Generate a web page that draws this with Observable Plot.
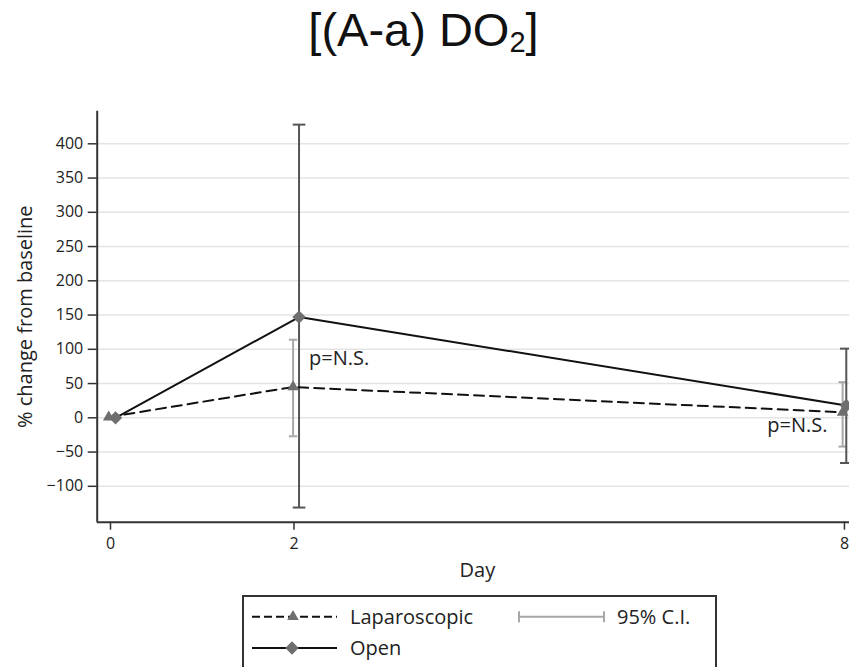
<!DOCTYPE html>
<html>
<head>
<meta charset="utf-8">
<script src="https://cdn.jsdelivr.net/npm/d3@7"></script>
<script src="https://cdn.jsdelivr.net/npm/@observablehq/plot@0.6"></script>
<style>
  html, body { margin: 0; padding: 0; background: #fff; }
  body { width: 849px; height: 667px; overflow: hidden; position: relative; font-family: "Open Sans", sans-serif; color: #222; }
  #title { position: absolute; left: -1px; top: 6px; width: 849px; text-align: center;
           font-family: "Liberation Sans", Arial, sans-serif; font-size: 47px; line-height: 47px; color: #111; }
  #title span.sub { font-size: 29px; vertical-align: -6px; }
  #chart { position: absolute; left: 0; top: 100px; }
  #legend { position: absolute; left: 242px; top: 595px; width: 471px; height: 100px;
            border: 2px solid #333; background: #fff; }
  #legend svg { position: absolute; left: 0; top: 0; }
</style>
</head>
<body>
<div id="title">[(A-a) DO<span class="sub">2</span>]</div>
<div id="chart"></div>
<div id="legend"></div>
<script>
// ---- data ----
const dayTicks = [0, 2, 8];
const yTicks = [-100, -50, 0, 50, 100, 150, 200, 250, 300, 350, 400];

// Laparoscopic (dashed, triangles) — plotted with a small horizontal offset like the original
const lapX    = [-0.02, 1.99, 7.98];
const lapMean = [1, 45, 8];
// Open (solid, diamonds)
const openX    = [0.055, 2.055, 8.02];
const openMean = [0, 147, 18];

// 95% C.I. (days 2 and 8)
const lapCIX  = [1.99, 7.98];
const lapLo   = [-27, -42];
const lapHi   = [114, 52];
const openCIX = [2.055, 8.02];
const openLo  = [-131, -66];
const openHi  = [428, 101];

// annotations
const noteText = "p=N.S.";
const noteDay  = [2, 8];
const noteY    = [86, -11];

const xDomain = [-0.145, 8.055];
const yDomain = [-152.4, 447.6];

// ---- tables ----
const lap  = lapX.map((x, i) => ({x, y: lapMean[i]}));
const open = openX.map((x, i) => ({x, y: openMean[i]}));
const lapCI  = lapCIX.map((x, i) => ({x, lo: lapLo[i], hi: lapHi[i]}));
const openCI = openCIX.map((x, i) => ({x, lo: openLo[i], hi: openHi[i]}));

const hcap = {draw(ctx, size) { const w = Math.sqrt(size / Math.PI); ctx.moveTo(-w, 0); ctx.lineTo(w, 0); }};

const CI_LIGHT = "#a8a8a8", CI_DARK = "#555", MARK = "#6e6e6e", AXIS = "#333";

const plot = Plot.plot({
  width: 849, height: 490,
  marginLeft: 96.7, marginRight: 0, marginTop: 10.7, marginBottom: 68.3,
  style: {fontFamily: "'Open Sans', sans-serif", fontSize: "16px", color: "#222", background: "transparent", overflow: "visible"},
  x: {domain: xDomain},
  y: {domain: yDomain},
  marks: [
    Plot.gridY(yTicks, {stroke: "#e4e4e4", strokeOpacity: 1, strokeWidth: 1.6}),
    Plot.axisY(yTicks, {tickSize: 9, tickPadding: 5, fontSize: 16, stroke: AXIS, strokeWidth: 1.5, label: null}),
    Plot.axisX(dayTicks, {tickSize: 8, tickPadding: 7, fontSize: 16, stroke: AXIS, strokeWidth: 1.5, label: null, tickFormat: d => String(d)}),
    Plot.ruleX([xDomain[0]], {stroke: AXIS, strokeWidth: 2}),
    Plot.ruleY([yDomain[0]], {stroke: AXIS, strokeWidth: 2}),
    Plot.text(["% change from baseline"], {frameAnchor: "left", textAnchor: "middle", lineAnchor: "middle", rotate: -90, dx: -72, fontSize: 20, fill: "#222"}),
    Plot.text(["Day"], {frameAnchor: "bottom", textAnchor: "middle", lineAnchor: "middle", dy: 48.3, dx: 4, fontSize: 20, fill: "#222"}),
    // confidence intervals
    Plot.ruleX(lapCI, {x: "x", y1: "lo", y2: "hi", stroke: CI_LIGHT, strokeWidth: 2}),
    Plot.dot(lapCI, {x: "x", y: "lo", symbol: hcap, r: 4.2, stroke: CI_LIGHT, strokeWidth: 2, fill: "none"}),
    Plot.dot(lapCI, {x: "x", y: "hi", symbol: hcap, r: 4.2, stroke: CI_LIGHT, strokeWidth: 2, fill: "none"}),
    Plot.ruleX(openCI, {x: "x", y1: "lo", y2: "hi", stroke: CI_DARK, strokeWidth: 2}),
    Plot.dot(openCI, {x: "x", y: "lo", symbol: hcap, r: 6.3, stroke: CI_DARK, strokeWidth: 2, fill: "none"}),
    Plot.dot(openCI, {x: "x", y: "hi", symbol: hcap, r: 6.3, stroke: CI_DARK, strokeWidth: 2, fill: "none"}),
    // lines
    Plot.line(lap, {x: "x", y: "y", stroke: "#111", strokeWidth: 2, strokeDasharray: "10,6"}),
    Plot.line(open, {x: "x", y: "y", stroke: "#111", strokeWidth: 2}),
    Plot.dot(lap, {x: "x", y: "y", symbol: "triangle", r: 4.3, fill: MARK, stroke: "none"}),
    Plot.dot(open, {x: "x", y: "y", symbol: "diamond2", r: 6, fill: MARK, stroke: "none"}),
    // annotations
    Plot.text([0], {x: () => noteDay[0], y: () => noteY[0], text: () => noteText, textAnchor: "start", dx: 15, fontSize: 20, fill: "#222"}),
    Plot.text([0], {x: () => noteDay[1], y: () => noteY[1], text: () => noteText, textAnchor: "end", dx: -17, fontSize: 20, fill: "#222"})
  ]
});
document.getElementById("chart").appendChild(plot);

// ---- legend ----
const lg = d3.select("#legend").append("svg").attr("width", 471).attr("height", 80)
  .style("font-family", "'Open Sans', sans-serif");
// legend origin: page (244, 597)
const ox = 244, oy = 597;
const row1 = 616.7 - oy, row2 = 648 - oy;
lg.append("line").attr("x1", 252 - ox).attr("x2", 337 - ox).attr("y1", row1).attr("y2", row1)
  .attr("stroke", "#111").attr("stroke-width", 2).attr("stroke-dasharray", "8,4");
lg.append("path").attr("transform", `translate(${293 - ox},${row1})`)
  .attr("d", d3.symbol(d3.symbolTriangle, 4.3 * 4.3 * Math.PI)()).attr("fill", MARK);
lg.append("text").attr("x", 350 - ox).attr("y", row1).attr("dy", "0.35em").attr("font-size", 20).attr("fill", "#222").text("Laparoscopic");
lg.append("line").attr("x1", 252 - ox).attr("x2", 337 - ox).attr("y1", row2).attr("y2", row2)
  .attr("stroke", "#111").attr("stroke-width", 2);
lg.append("path").attr("transform", `translate(${292 - ox},${row2})`)
  .attr("d", d3.symbol(d3.symbolDiamond2, 36 * Math.PI)()).attr("fill", MARK);
lg.append("text").attr("x", 350 - ox).attr("y", row2).attr("dy", "0.35em").attr("font-size", 20).attr("fill", "#222").text("Open");
// CI key
lg.append("line").attr("x1", 519 - ox).attr("x2", 604 - ox).attr("y1", row1).attr("y2", row1)
  .attr("stroke", CI_LIGHT).attr("stroke-width", 2);
[519, 604].forEach(x => lg.append("line").attr("x1", x - ox).attr("x2", x - ox).attr("y1", row1 - 5.5).attr("y2", row1 + 5.5)
  .attr("stroke", CI_LIGHT).attr("stroke-width", 2));
lg.append("text").attr("x", 617 - ox).attr("y", row1).attr("dy", "0.35em").attr("font-size", 20).attr("fill", "#222").text("95% C.I.");
</script>
</body>
</html>
